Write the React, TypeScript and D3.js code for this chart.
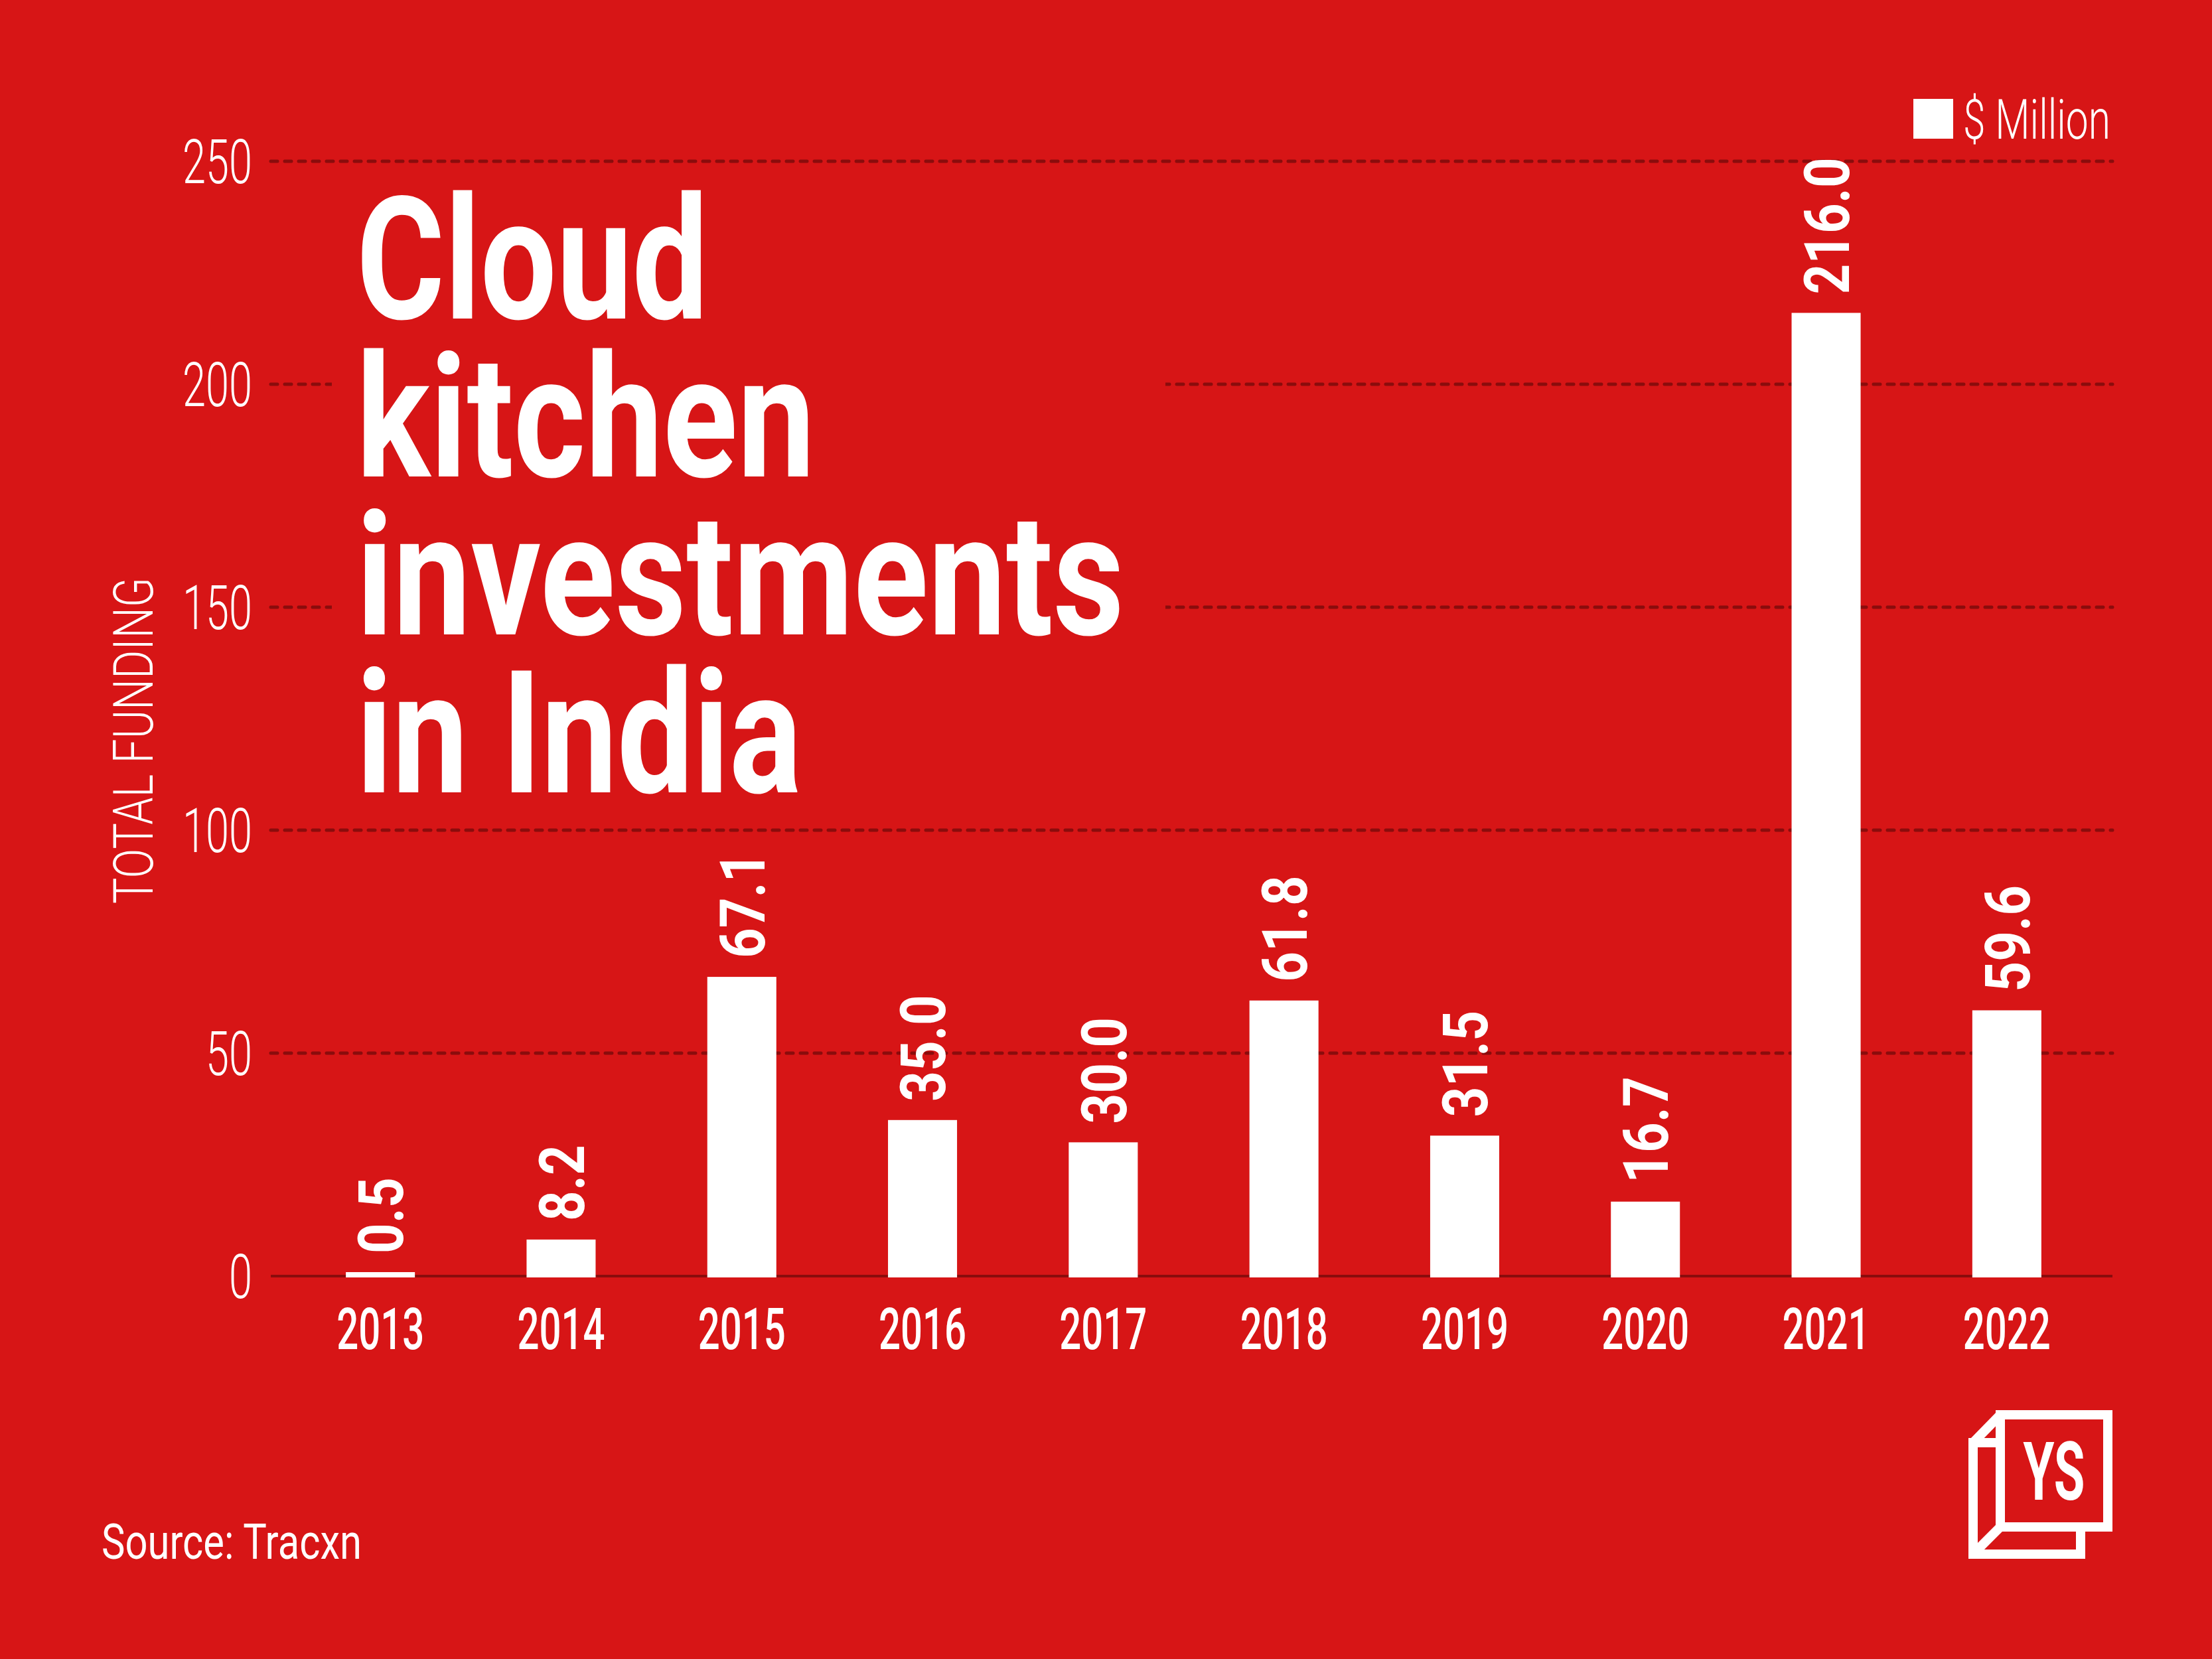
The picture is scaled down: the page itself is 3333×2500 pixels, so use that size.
import React, { useRef, useEffect } from 'react';
import * as d3 from 'd3';

// Data
const years = ['2013', '2014', '2015', '2016', '2017', '2018', '2019', '2020', '2021', '2022'];
const funding = [0.5, 8.2, 67.1, 35.0, 30.0, 61.8, 31.5, 16.7, 216.0, 59.6];
const yTicks = [0, 50, 100, 150, 200, 250];
const titleLines = ['Cloud', 'kitchen', 'investments', 'in India'];
const legendLabel = '$ Million';
const axisTitle = 'TOTAL FUNDING';
const sourceText = 'Source: Tracxn';

const W = 3333;
const H = 2500;
const BG = '#d71516';
const GRID = '#8a0c0c';
const WHITE = '#ffffff';
const FONT = 'Roboto, "Liberation Sans", sans-serif';

// target widths of the condensed title lines
const TITLE_W = [530, 691, 1157, 671];

const App: React.FC = () => {
  const svgRef = useRef<SVGSVGElement>(null);

  useEffect(() => {
    document.body.style.margin = '0';
    if (!svgRef.current) return;
    const svg = d3.select(svgRef.current);
    svg.selectAll('*').remove();

    svg.append('rect').attr('width', W).attr('height', H).attr('fill', BG);

    const gridLeft = 408;
    const gridRight = 3183;

    const y = d3.scaleLinear().domain([0, 250]).range([1923, 243]);
    const x = d3
      .scaleBand<string>()
      .domain(years)
      .range([437, 3160])
      .paddingInner(0.618)
      .paddingOuter(0.309);

    // Grid lines (dashed), baseline solid
    svg
      .append('g')
      .selectAll('line')
      .data(yTicks.filter(t => t > 0))
      .enter()
      .append('line')
      .attr('x1', gridLeft)
      .attr('x2', gridRight)
      .attr('y1', d => y(d))
      .attr('y2', d => y(d))
      .attr('stroke', GRID)
      .attr('stroke-width', 5)
      .attr('stroke-linecap', 'round')
      .attr('stroke-dasharray', '10 11');

    svg
      .append('line')
      .attr('x1', gridLeft)
      .attr('x2', gridRight)
      .attr('y1', y(0))
      .attr('y2', y(0))
      .attr('stroke', GRID)
      .attr('stroke-width', 4);

    // Y axis tick labels
    const yAxis = d3.axisLeft(y).tickValues(yTicks).tickSize(0).tickPadding(0);
    const yg = svg.append('g').attr('transform', 'translate(380,0)').call(yAxis);
    yg.select('.domain').remove();
    yg.selectAll<SVGTextElement, number>('text')
      .attr('fill', WHITE)
      .attr('font-family', FONT)
      .attr('font-weight', 300)
      .attr('font-size', 92)
      .attr('dy', '0.35em')
      .attr('textLength', d => String(d).length * 35)
      .attr('lengthAdjust', 'spacingAndGlyphs');

    // Axis title
    svg
      .append('text')
      .attr('transform', 'translate(230,1116) rotate(-90)')
      .attr('text-anchor', 'middle')
      .attr('fill', WHITE)
      .attr('font-family', FONT)
      .attr('font-weight', 300)
      .attr('font-size', 84)
      .attr('textLength', 492)
      .attr('lengthAdjust', 'spacingAndGlyphs')
      .text(axisTitle);

    // Title block masks the grid behind it
    svg.append('rect').attr('x', 500).attr('y', 262).attr('width', 1256).attr('height', 968).attr('fill', BG);

    const titleG = svg.append('g');
    titleLines.forEach((line, i) => {
      titleG
        .append('text')
        .attr('x', 537)
        .attr('y', 480 + i * 238)
        .attr('fill', WHITE)
        .attr('font-family', FONT)
        .attr('font-weight', 700)
        .attr('font-size', 258)
        .attr('textLength', TITLE_W[i])
        .attr('lengthAdjust', 'spacingAndGlyphs')
        .text(line);
    });

    // Bars
    const minHeight = 6;
    const rows = years.map((yr, i) => ({ year: yr, value: funding[i] }));
    svg
      .append('g')
      .selectAll('rect')
      .data(rows)
      .enter()
      .append('rect')
      .attr('x', d => x(d.year) || 0)
      .attr('width', x.bandwidth())
      .attr('y', d => Math.min(y(d.value), y(0) - minHeight))
      .attr('height', d => Math.max(y(0) - y(d.value), minHeight) + 2)
      .attr('fill', WHITE);

    // Value labels (rotated)
    svg
      .append('g')
      .selectAll('text')
      .data(rows)
      .enter()
      .append('text')
      .attr('transform', d => {
        const cx = (x(d.year) || 0) + x.bandwidth() / 2;
        const top = Math.min(y(d.value), y(0) - minHeight);
        return `translate(${cx},${top - 28}) rotate(-90) scale(0.84,1)`;
      })
      .attr('dy', '0.36em')
      .attr('fill', WHITE)
      .attr('font-family', FONT)
      .attr('font-weight', 700)
      .attr('font-size', 95)
      .text(d => d.value.toFixed(1));

    // X axis labels
    const xAxis = d3.axisBottom(x).tickSize(0).tickPadding(0);
    const xg = svg.append('g').attr('transform', 'translate(0,2033)').call(xAxis);
    xg.select('.domain').remove();
    xg.selectAll<SVGTextElement, string>('text')
      .attr('y', 0)
      .attr('dy', 0)
      .attr('fill', WHITE)
      .attr('font-family', FONT)
      .attr('font-weight', 500)
      .attr('font-size', 88)
      .attr('textLength', d => d.length * 33)
      .attr('lengthAdjust', 'spacingAndGlyphs');

    // Legend
    svg.append('rect').attr('x', 2883).attr('y', 149).attr('width', 60).attr('height', 60).attr('fill', WHITE);
    svg
      .append('text')
      .attr('x', 2958)
      .attr('y', 209)
      .attr('fill', WHITE)
      .attr('font-family', FONT)
      .attr('font-weight', 300)
      .attr('font-size', 83)
      .attr('textLength', 222)
      .attr('lengthAdjust', 'spacingAndGlyphs')
      .text(legendLabel);

    // Source
    svg
      .append('text')
      .attr('x', 153)
      .attr('y', 2349)
      .attr('fill', WHITE)
      .attr('font-family', FONT)
      .attr('font-weight', 400)
      .attr('font-size', 75)
      .attr('textLength', 392)
      .attr('lengthAdjust', 'spacingAndGlyphs')
      .text(sourceText);

    // YS logo
    const logo = svg.append('g').attr('fill', 'none').attr('stroke', WHITE).attr('stroke-width', 14);
    logo.append('rect').attr('x', 2973).attr('y', 2174).attr('width', 162).attr('height', 168);
    logo.append('line').attr('x1', 2973).attr('y1', 2174).attr('x2', 3014).attr('y2', 2132);
    logo.append('line').attr('x1', 2973).attr('y1', 2342).attr('x2', 3014).attr('y2', 2301);
    logo.append('rect').attr('x', 3014).attr('y', 2132).attr('width', 162).attr('height', 169).attr('fill', BG);
    svg
      .append('text')
      .attr('x', 3095)
      .attr('y', 2260)
      .attr('text-anchor', 'middle')
      .attr('fill', WHITE)
      .attr('font-family', FONT)
      .attr('font-weight', 700)
      .attr('font-size', 122)
      .attr('textLength', 93)
      .attr('lengthAdjust', 'spacingAndGlyphs')
      .text('YS');
  }, []);

  return (
    <svg
      ref={svgRef}
      width={W}
      height={H}
      style={{ display: 'block', position: 'absolute', left: 0, top: 0 }}
    />
  );
};

export default App;
